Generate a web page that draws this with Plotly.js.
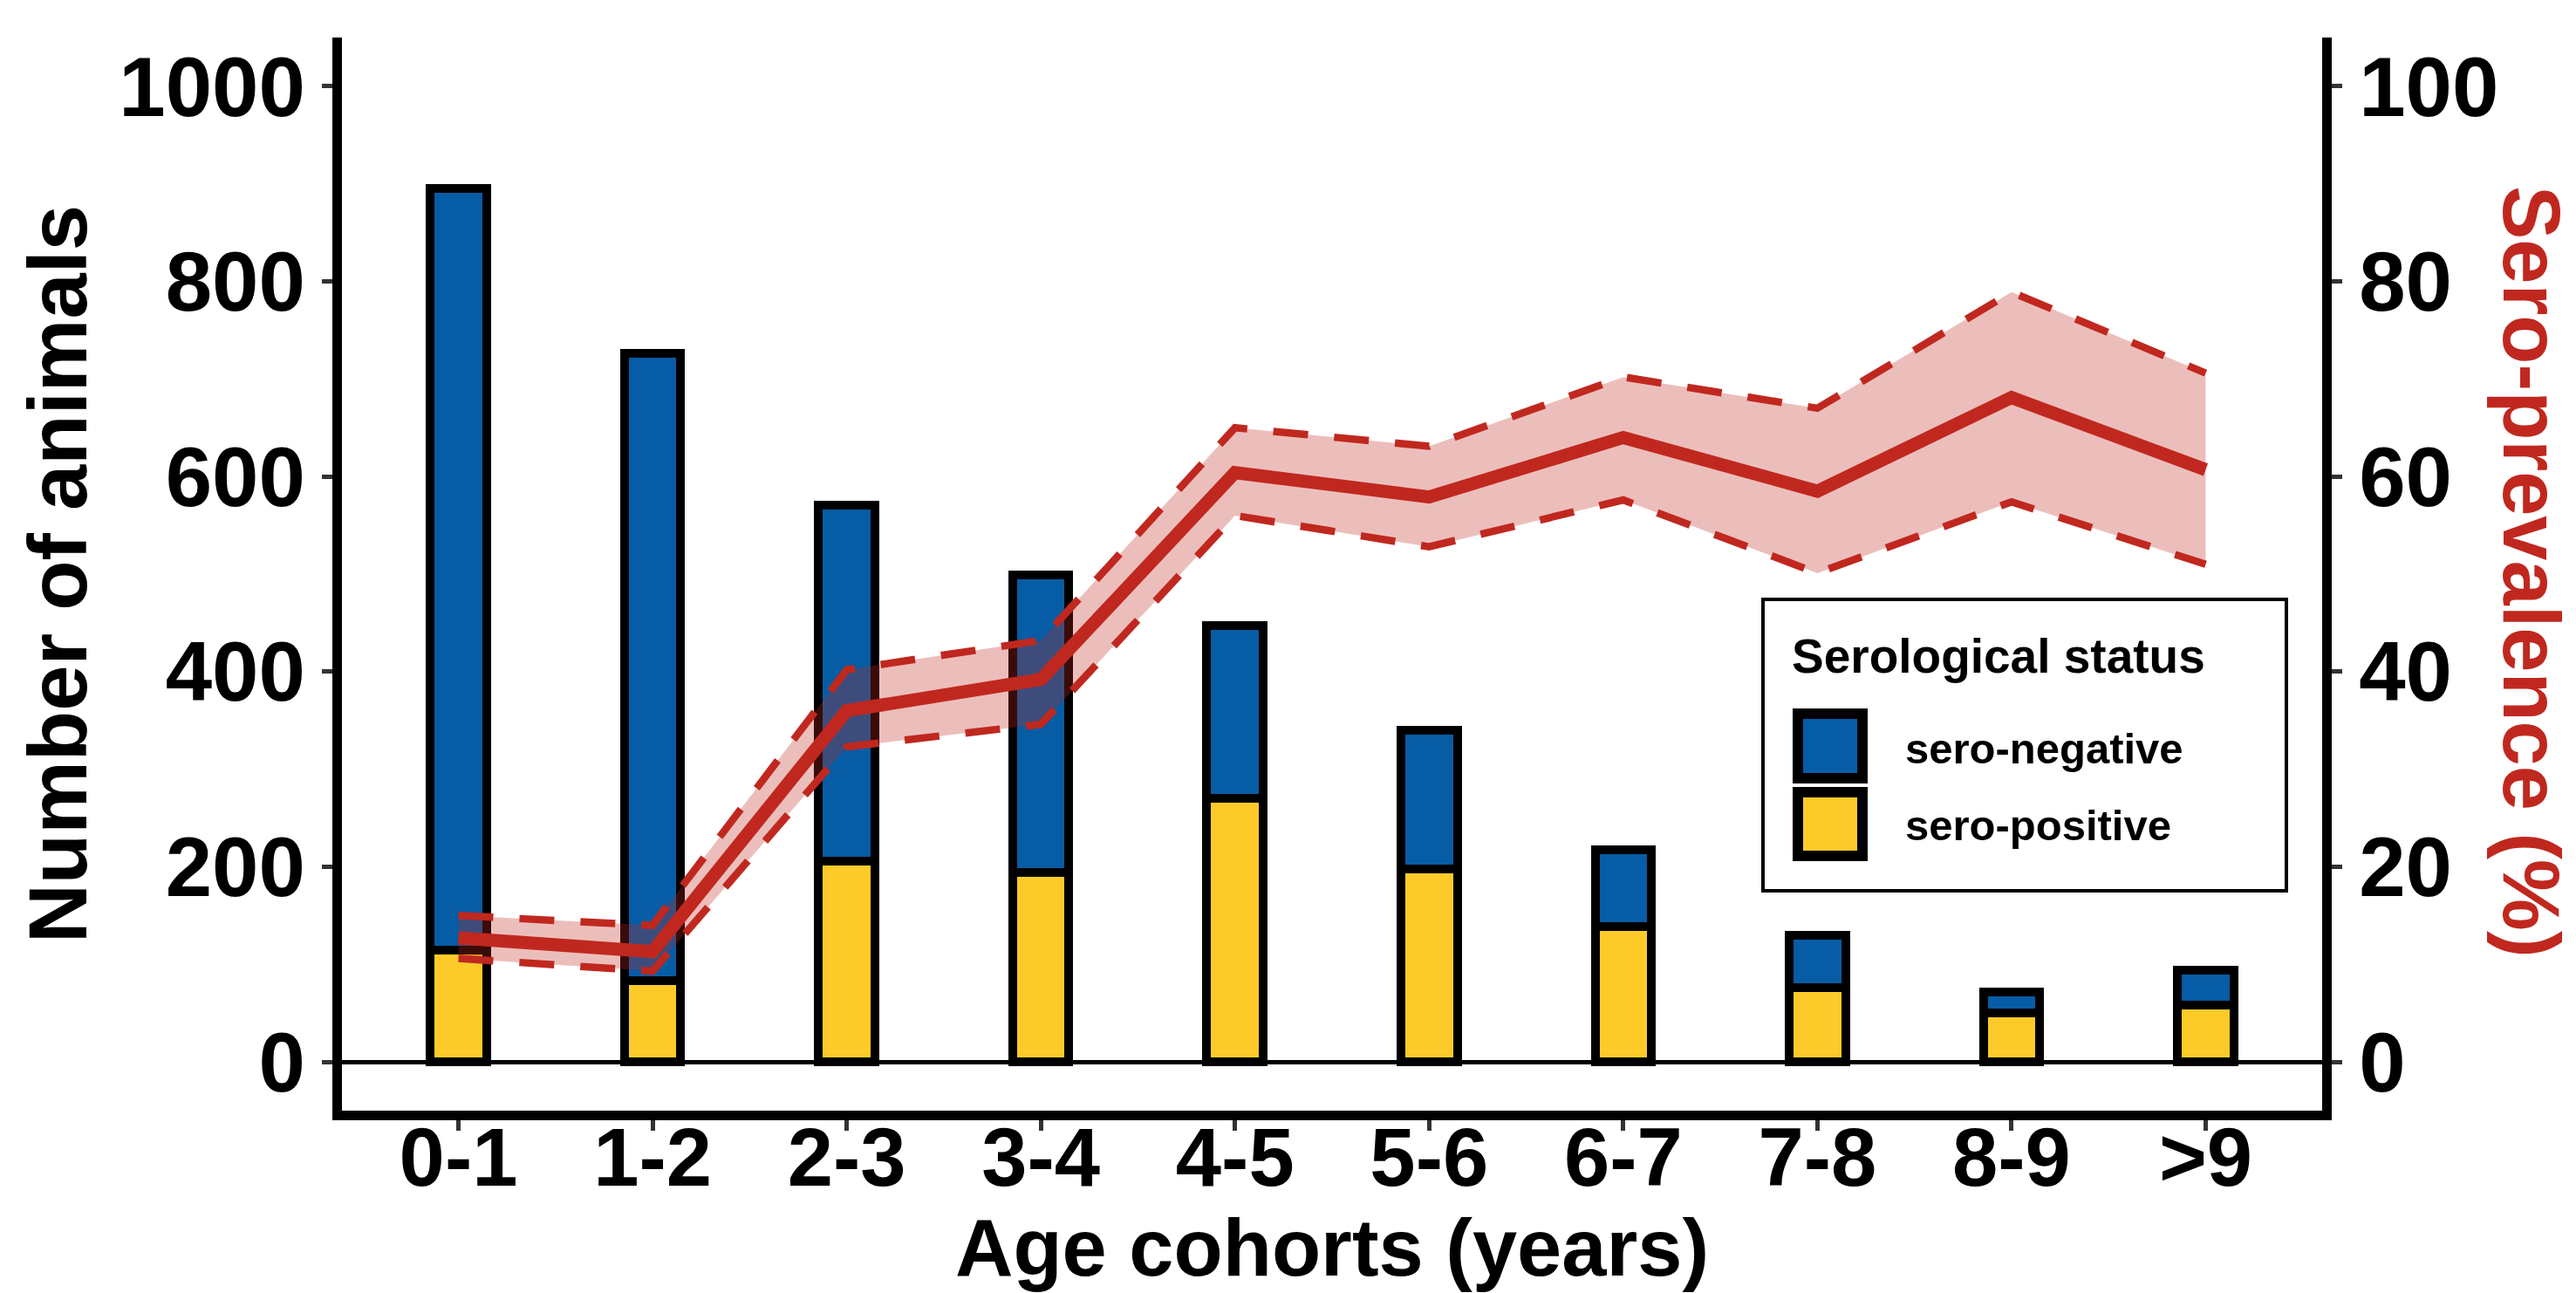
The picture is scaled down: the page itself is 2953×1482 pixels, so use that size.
<!DOCTYPE html>
<html><head><meta charset="utf-8">
<script src="https://cdn.plot.ly/plotly-3.0.1.min.js"></script>
<style>html,body{margin:0;padding:0;background:#fff;overflow:hidden}</style>
</head><body>
<div id="chart" style="width:2953px;height:1482px"></div>
<script>
// ---- data ----
const ageCohorts = ['0-1','1-2','2-3','3-4','4-5','5-6','6-7','7-8','8-9','>9'];
const seroPositive = [115, 83, 206, 194, 270, 198, 139, 76, 50, 58];
const seroNegative = [780, 643, 365, 305, 177, 142, 78, 54, 22, 36];
const prevalence      = [12.7, 11.3, 36.0, 39.2, 60.4, 57.9, 64.0, 58.5, 68.1, 60.7];
const prevalenceUpper = [15.0, 14.0, 40.2, 43.2, 65.0, 63.1, 70.2, 67.0, 78.9, 70.6];
const prevalenceLower = [10.6,  9.3, 32.3, 34.6, 56.0, 52.8, 57.6, 50.1, 57.4, 51.0];
const seriesNames = ['sero-negative', 'sero-positive'];
const legendTitle = 'Serological status';
const leftTicks = [0, 200, 400, 600, 800, 1000];
const rightTicks = [0, 20, 40, 60, 80, 100];
const xTitle = 'Age cohorts (years)';
const yTitle = 'Number of animals';
const y2Title = 'Sero-prevalence (%)';

// ---- styles ----
const W = 2953, H = 1482;
const ML = 392, MR = 291, MT = 43, MB = 209;
const PW = W - ML - MR, PH = H - MT - MB;
const px = v => (v - ML) / PW;
const py = v => (H - MB - v) / PH;
const BLUE = '#065CA5', YELLOW = '#FDCB29', RED = '#C0281F';
const FONT = 'Liberation Sans, Arial, DejaVu Sans, sans-serif';

const traces = [
  {type:'bar', name:seriesNames[1], x:ageCohorts, y:seroPositive, width:0.29,
   marker:{color:YELLOW, line:{color:'#000', width:10}}, showlegend:false},
  {type:'bar', name:seriesNames[0], x:ageCohorts, y:seroNegative, width:0.29,
   marker:{color:BLUE, line:{color:'#000', width:10}}, showlegend:false},
  {type:'scatter', mode:'lines', x:ageCohorts, y:prevalenceLower, yaxis:'y2',
   line:{color:RED, width:8.5, dash:'40px,30px'}, showlegend:false},
  {type:'scatter', mode:'lines', x:ageCohorts, y:prevalenceUpper, yaxis:'y2',
   fill:'tonexty', fillcolor:'rgba(192,40,31,0.3)',
   line:{color:RED, width:8.5, dash:'40px,30px'}, showlegend:false},
  {type:'scatter', mode:'lines', x:ageCohorts, y:prevalence, yaxis:'y2',
   line:{color:RED, width:15}, showlegend:false}
];

const tickFont = {family:FONT, size:96, color:'#000', weight:700};

const layout = {
  width:W, height:H,
  margin:{l:ML, r:MR, t:MT, b:MB, pad:0},
  paper_bgcolor:'#fff', plot_bgcolor:'#fff',
  font:{family:FONT, weight:700, color:'#000'},
  barmode:'stack', showlegend:false, hovermode:false,
  xaxis:{type:'category', range:[-0.6, 9.6], showgrid:false, zeroline:false,
    showline:true, linecolor:'#000', linewidth:11,
    ticks:'outside', ticklen:12, tickwidth:5, tickcolor:'#333',
    tickfont:{family:FONT, size:94, color:'#000', weight:700},
    ticklabelstandoff:-50, automargin:false,
    title:{text:xTitle, font:{family:FONT, size:92, color:'#000', weight:700}, standoff:16}},
  yaxis:{range:[-50, 1050], tickvals:leftTicks, showgrid:false,
    zeroline:true, zerolinecolor:'#000', zerolinewidth:5,
    showline:true, linecolor:'#000', linewidth:11,
    ticks:'outside', ticklen:12, tickwidth:5, tickcolor:'#333',
    tickfont:tickFont, automargin:false,
    title:{text:yTitle, font:{family:FONT, size:94, color:'#000', weight:700}, standoff:10}},
  yaxis2:{range:[-5, 105], tickvals:rightTicks, overlaying:'y', side:'right',
    showgrid:false, zeroline:false,
    showline:true, linecolor:'#000', linewidth:11,
    ticks:'outside', ticklen:12, tickwidth:5, tickcolor:'#333',
    tickfont:tickFont, automargin:false},
  shapes:[
    {type:'rect', xref:'paper', yref:'paper', x0:px(2021), x1:px(2621), y0:py(1021), y1:py(687),
     line:{color:'#000', width:4}, fillcolor:'#fff', layer:'above'},
    {type:'rect', xref:'paper', yref:'paper', x0:px(2061), x1:px(2135), y0:py(892), y1:py(818),
     line:{color:'#000', width:12}, fillcolor:BLUE, layer:'above'},
    {type:'rect', xref:'paper', yref:'paper', x0:px(2061), x1:px(2135), y0:py(981), y1:py(908),
     line:{color:'#000', width:12}, fillcolor:YELLOW, layer:'above'}
  ],
  annotations:[
    {xref:'paper', yref:'paper', x:px(2052), y:py(752), xanchor:'left', yanchor:'middle',
     text:legendTitle, showarrow:false, font:{family:FONT, size:55, color:'#000', weight:700}},
    {xref:'paper', yref:'paper', x:px(2182), y:py(858), xanchor:'left', yanchor:'middle',
     text:seriesNames[0], showarrow:false, font:{family:FONT, size:49, color:'#000', weight:700}},
    {xref:'paper', yref:'paper', x:px(2182), y:py(946), xanchor:'left', yanchor:'middle',
     text:seriesNames[1], showarrow:false, font:{family:FONT, size:49, color:'#000', weight:700}},
    {xref:'paper', yref:'paper', x:px(2902), y:py(655), xanchor:'center', yanchor:'middle',
     text:y2Title, textangle:90, showarrow:false, font:{family:FONT, size:92, color:RED, weight:700}}
  ]
};

Plotly.newPlot('chart', traces, layout, {displayModeBar:false, staticPlot:true});
</script>
</body></html>
